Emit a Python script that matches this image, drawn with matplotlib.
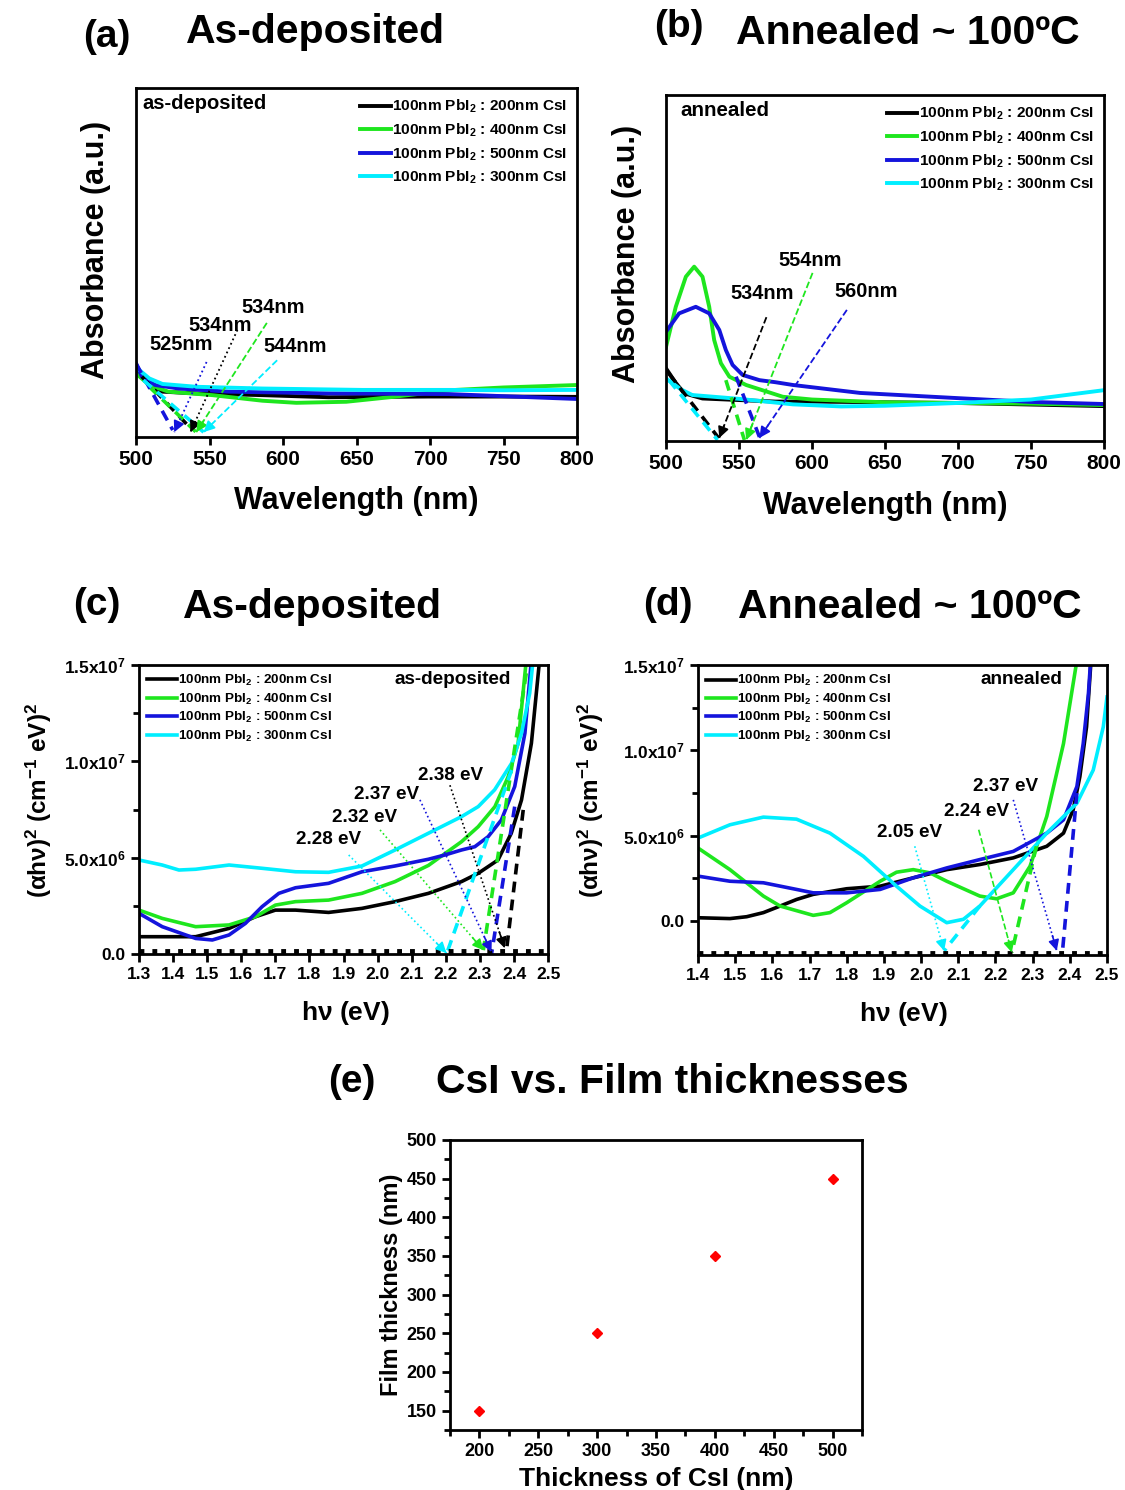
import numpy as np
import matplotlib
matplotlib.use("Agg")
import matplotlib.pyplot as plt
from matplotlib.ticker import MultipleLocator

plt.rcParams["font.family"] = "Liberation Sans"
plt.rcParams["font.weight"] = "bold"
plt.rcParams["axes.labelweight"] = "bold"
plt.rcParams["mathtext.fontset"] = "custom"
plt.rcParams["mathtext.bf"] = "Liberation Sans:bold"
plt.rcParams["mathtext.rm"] = "Liberation Sans:bold"
plt.rcParams["mathtext.default"] = "bf"

# ---------------- data ----------------
CSI = ["200", "400", "500", "300"]
COLORS = ["black", "#1ee61e", "#1414dc", "#00eeff"]
LABELS = [f"100nm PbI$_2$ : {t}nm CsI" for t in CSI]

# (a) as-deposited absorbance (a.u.)
a_nm_black = [500, 509, 518, 541, 586, 631, 699, 750, 800]
a_black = [0.192, 0.154, 0.130, 0.125, 0.120, 0.114, 0.116, 0.116, 0.115]
a_nm_green = [500, 509, 522, 552, 586, 609, 643, 677, 713, 750, 800]
a_green = [0.182, 0.149, 0.130, 0.120, 0.104, 0.098, 0.101, 0.116, 0.134, 0.142, 0.149]
a_nm_blue = [500, 504, 513, 529, 563, 631, 713, 750, 800]
a_blue = [0.211, 0.173, 0.149, 0.139, 0.130, 0.125, 0.123, 0.117, 0.109]
a_nm_cyan = [500, 509, 518, 541, 586, 654, 713, 750, 800]
a_cyan = [0.200, 0.168, 0.152, 0.144, 0.139, 0.135, 0.135, 0.134, 0.135]

# tangents (start -> intercept) and pointers (label -> intercept)
a_tan = [((504, 0.173), (536, 0.03)), ((509, 0.144), (540.6, 0.015)),
         ((500, 0.211), (525, 0.02)), ((505, 0.163), (546, 0.014))]
a_ptr = [((569, 0.307), (537, 0.014)), ((589, 0.327), (541, 0.014)),
         ((548, 0.215), (526, 0.014)), ((596, 0.220), (546, 0.014))]
a_ptr_ls = [":", "--", ":", "--"]
a_gap_text = ["534nm", "534nm", "525nm", "544nm"]
a_gap_pos = [(557, 0.321), (593, 0.370), (530.6, 0.264), (608, 0.258)]

# (b) annealed absorbance (a.u.)
b_nm_black = [500, 506, 512.4, 525, 575, 600, 700, 800]
b_black = [0.210, 0.172, 0.138, 0.123, 0.114, 0.114, 0.110, 0.101]
b_nm_green = [500, 506.7, 513.6, 519.3, 525, 529.6, 533, 537.6, 543.4, 554.9, 580, 600, 650, 700, 750, 800]
b_green = [0.272, 0.388, 0.475, 0.504, 0.475, 0.388, 0.292, 0.225, 0.186, 0.162, 0.128, 0.120, 0.112, 0.110, 0.108, 0.104]
b_nm_blue = [500, 509, 520.4, 529.6, 536.5, 541, 545.6, 552.5, 564, 575, 587, 633, 700, 750, 800]
b_blue = [0.316, 0.369, 0.388, 0.369, 0.321, 0.263, 0.220, 0.191, 0.176, 0.170, 0.162, 0.139, 0.124, 0.113, 0.107]
b_nm_cyan = [500, 510, 518, 550, 587, 620, 650, 700, 750, 800]
b_cyan = [0.181, 0.150, 0.133, 0.122, 0.106, 0.100, 0.102, 0.110, 0.120, 0.147]

b_tan = [((502, 0.195), (536, 0.009)), ((541, 0.176), (553.7, 0.003)),
         ((548, 0.186), (564, 0.012)), ((502, 0.176), (535.3, 0.003))]
b_ptr = [((568.8, 0.358), (536.5, 0.009)), ((600.4, 0.486), (554.9, 0.003)),
         ((623.9, 0.379), (564, 0.009))]
b_gap_text = ["534nm", "554nm", "560nm"]
b_gap_pos = [(566, 0.425), (598.4, 0.523), (637, 0.431)]

# (c) as-deposited Tauc plot (values in 1e6)
c_ev_black = [1.30, 1.466, 1.564, 1.642, 1.700, 1.759, 1.856, 1.954, 2.051, 2.149, 2.246, 2.295, 2.353, 2.392, 2.422, 2.451, 2.475]
c_black = [0.90, 0.90, 1.33, 1.94, 2.28, 2.28, 2.16, 2.37, 2.72, 3.15, 3.76, 4.19, 4.88, 6.27, 8.00, 10.94, 15.26]
c_ev_green = [1.30, 1.368, 1.466, 1.564, 1.642, 1.700, 1.759, 1.856, 1.954, 2.051, 2.149, 2.246, 2.295, 2.344, 2.383, 2.412, 2.436]
c_green = [2.28, 1.85, 1.42, 1.51, 1.94, 2.54, 2.72, 2.80, 3.15, 3.76, 4.60, 5.83, 6.61, 7.65, 9.21, 10.94, 15.26]
c_ev_blue = [1.30, 1.368, 1.466, 1.515, 1.564, 1.612, 1.661, 1.710, 1.759, 1.856, 1.954, 2.051, 2.149, 2.197, 2.246, 2.285, 2.324, 2.363, 2.402, 2.432, 2.451]
c_blue = [2.11, 1.42, 0.81, 0.73, 0.99, 1.59, 2.46, 3.15, 3.44, 3.67, 4.27, 4.57, 4.92, 5.14, 5.40, 5.57, 6.09, 6.96, 8.69, 11.46, 15.26]
c_ev_cyan = [1.30, 1.368, 1.417, 1.466, 1.564, 1.661, 1.759, 1.856, 1.954, 2.051, 2.149, 2.246, 2.295, 2.343, 2.393, 2.422, 2.446, 2.456]
c_cyan = [4.88, 4.62, 4.36, 4.40, 4.62, 4.45, 4.27, 4.24, 4.57, 5.40, 6.27, 7.13, 7.65, 8.52, 9.90, 11.46, 13.53, 15.26]

c_tan = [((2.427, 7.48), (2.378, 0.2)), ((2.436, 14.57), (2.31, 0.2)),
         ((2.402, 7.65), (2.334, 0.0)), ((2.393, 9.55), (2.202, 0.0))]
c_ptr = [((2.212, 8.76), (2.373, 0.3)), ((2.007, 6.44), (2.31, 0.2)),
         ((2.124, 8.00), (2.334, 0.1)), ((1.915, 5.14), (2.202, 0.05))]
c_gap_text = ["2.38 eV", "2.32 eV", "2.37 eV", "2.28 eV"]
c_gap_pos = [(2.213, 9.29), (1.963, 7.06), (2.026, 8.26), (1.856, 5.92)]

# (d) annealed Tauc plot (values in 1e6)
d_ev_black = [1.40, 1.486, 1.531, 1.576, 1.621, 1.665, 1.710, 1.800, 1.890, 1.979, 2.069, 2.158, 2.248, 2.338, 2.383, 2.409, 2.427, 2.445, 2.457]
d_black = [0.19, 0.14, 0.25, 0.49, 0.875, 1.26, 1.56, 1.89, 2.04, 2.53, 3.01, 3.31, 3.70, 4.38, 5.15, 6.52, 8.46, 11.38, 15.27]
d_ev_green = [1.40, 1.486, 1.576, 1.621, 1.710, 1.755, 1.800, 1.890, 1.934, 1.979, 2.024, 2.069, 2.158, 2.203, 2.248, 2.293, 2.338, 2.383, 2.419]
d_green = [4.28, 3.01, 1.46, 0.875, 0.33, 0.49, 1.07, 2.33, 2.86, 3.01, 2.82, 2.33, 1.46, 1.30, 1.65, 3.21, 6.13, 10.40, 15.27]
d_ev_blue = [1.40, 1.486, 1.576, 1.665, 1.710, 1.800, 1.890, 1.979, 2.069, 2.158, 2.248, 2.338, 2.383, 2.419, 2.436, 2.450, 2.456]
d_blue = [2.63, 2.33, 2.24, 1.85, 1.65, 1.65, 1.85, 2.53, 3.11, 3.60, 4.08, 5.15, 5.93, 7.88, 10.40, 13.32, 15.27]
d_ev_cyan = [1.40, 1.486, 1.576, 1.665, 1.755, 1.845, 1.934, 1.997, 2.069, 2.114, 2.158, 2.248, 2.338, 2.419, 2.463, 2.490, 2.500]
d_cyan = [4.86, 5.64, 6.09, 5.97, 5.15, 3.79, 2.04, 0.875, -0.10, 0.10, 0.875, 3.01, 5.15, 6.90, 8.85, 11.38, 13.13]

d_tan = [((2.31, 4.38), (2.244, -1.85)), ((2.419, 7.50), (2.38, -1.85)),
         ((2.158, 0.875), (2.062, -1.75))]
d_tan_col = [1, 2, 3]
d_ptr = [((2.155, 5.35), (2.244, -1.85)), ((2.248, 7.10), (2.365, -1.75)),
         ((1.983, 4.38), (2.062, -1.75))]
d_ptr_ls = ["--", ":", ":"]
d_gap_text = ["2.24 eV", "2.37 eV", "2.05 eV"]
d_gap_pos = [(2.149, 6.42), (2.226, 7.88), (1.970, 5.19)]

# (e) film thickness vs CsI thickness
e_csi = [200, 300, 400, 500]
e_film = [150, 250, 350, 450]

TAUC_TICKS = [0, 5e6, 1e7, 1.5e7]
TAUC_TICKLABELS = ["0.0", "5.0x10$^6$", "1.0x10$^7$", "1.5x10$^7$"]


# ---------------- helpers ----------------
def style_axes(ax):
    for s in ax.spines.values():
        s.set_linewidth(2.0)
    ax.tick_params(which="both", direction="out", width=2, top=False, right=False)
    ax.tick_params(which="major", length=6)
    ax.tick_params(which="minor", length=4)


def pointer(ax, start, tip, color, ls, lw):
    ax.plot([start[0], tip[0]], [start[1], tip[1]], color=color, ls=ls, lw=lw)
    back = (start[0] + 0.9 * (tip[0] - start[0]), start[1] + 0.9 * (tip[1] - start[1]))
    ax.annotate("", xy=tip, xytext=back,
                arrowprops=dict(arrowstyle="-|>", color=color, lw=lw,
                                mutation_scale=16, shrinkA=0, shrinkB=0))


def tangent(ax, start, tip, color):
    ax.plot([start[0], tip[0]], [start[1], tip[1]], color=color, ls=(0, (3, 2)), lw=2.6)


fig = plt.figure(figsize=(11.25, 14.9), dpi=100)

# ---------------- (a) ----------------
ax = fig.add_axes([0.1209, 0.7067, 0.392, 0.2342])
for xs, ys, c, lab in zip([a_nm_black, a_nm_green, a_nm_blue, a_nm_cyan],
                          [a_black, a_green, a_blue, a_cyan], COLORS, LABELS):
    ax.plot(xs, ys, color=c, lw=2.8, label=lab)
for (s, t), c in zip(a_tan, COLORS):
    tangent(ax, s, t, c)
for (s, t), c, ls in zip(a_ptr, COLORS, a_ptr_ls):
    pointer(ax, s, t, c, ls, 1.3)
for txt, pos in zip(a_gap_text, a_gap_pos):
    ax.text(pos[0], pos[1], txt, fontsize=14.4, ha="center", va="center")
ax.set_xlim(500, 800)
ax.set_ylim(0, 1)
ax.set_yticks([])
ax.xaxis.set_major_locator(MultipleLocator(50))
style_axes(ax)
ax.tick_params(labelsize=15)
ax.set_xlabel("Wavelength (nm)", fontsize=22)
ax.set_ylabel("Absorbance (a.u.)", fontsize=22)
ax.xaxis.set_label_coords(0.5, -0.14)
ax.yaxis.set_label_coords(-0.056, 0.536)
ax.text(0.014, 0.955, "as-deposited", transform=ax.transAxes, fontsize=14.5,
        ha="left", va="center")
ax.legend(loc="upper right", bbox_to_anchor=(1.0, 1.0), frameon=False, fontsize=11.1,
          handlelength=2.0, handletextpad=0.1, labelspacing=0.4, borderaxespad=0.25)

# ---------------- (b) ----------------
ax = fig.add_axes([0.592, 0.704, 0.3893, 0.2322])
for xs, ys, c, lab in zip([b_nm_black, b_nm_green, b_nm_blue, b_nm_cyan],
                          [b_black, b_green, b_blue, b_cyan], COLORS, LABELS):
    ax.plot(xs, ys, color=c, lw=2.8, label=lab)
for (s, t), c in zip(b_tan, COLORS):
    tangent(ax, s, t, c)
for (s, t), c in zip(b_ptr, COLORS[:3]):
    pointer(ax, s, t, c, "--", 1.3)
for txt, pos in zip(b_gap_text, b_gap_pos):
    ax.text(pos[0], pos[1], txt, fontsize=14.4, ha="center", va="center")
ax.set_xlim(500, 800)
ax.set_ylim(0, 1)
ax.set_yticks([])
ax.xaxis.set_major_locator(MultipleLocator(50))
style_axes(ax)
ax.tick_params(labelsize=15)
ax.set_xlabel("Wavelength (nm)", fontsize=22)
ax.set_ylabel("Absorbance (a.u.)", fontsize=22)
ax.xaxis.set_label_coords(0.5, -0.143)
ax.yaxis.set_label_coords(-0.055, 0.54)
ax.text(0.032, 0.955, "annealed", transform=ax.transAxes, fontsize=14.8,
        ha="left", va="center")
ax.legend(loc="upper right", bbox_to_anchor=(1.0, 1.0), frameon=False, fontsize=11.1,
          handlelength=2.0, handletextpad=0.1, labelspacing=0.4, borderaxespad=0.25)

# ---------------- (c) ----------------
ax = fig.add_axes([0.1236, 0.3597, 0.3636, 0.194])
for xs, ys, c, lab in zip([c_ev_black, c_ev_green, c_ev_blue, c_ev_cyan],
                          [c_black, c_green, c_blue, c_cyan], COLORS, LABELS):
    ax.plot(xs, np.array(ys) * 1e6, color=c, lw=2.6, label=lab)
for (s, t), c in zip(c_tan, COLORS):
    tangent(ax, (s[0], s[1] * 1e6), (t[0], t[1] * 1e6), c)
for (s, t), c in zip(c_ptr, COLORS):
    pointer(ax, (s[0], s[1] * 1e6), (t[0], t[1] * 1e6), c, ":", 1.2)
for txt, pos in zip(c_gap_text, c_gap_pos):
    ax.text(pos[0], pos[1] * 1e6, txt, fontsize=13.6, ha="center", va="center")
ax.set_xlim(1.3, 2.5)
ax.set_ylim(0, 1.5e7)
ax.axhline(0.015e7, color="black", ls=":", lw=3.5)
ax.xaxis.set_major_locator(MultipleLocator(0.1))
ax.set_yticks(TAUC_TICKS, TAUC_TICKLABELS)
ax.yaxis.set_minor_locator(MultipleLocator(2.5e6))
style_axes(ax)
ax.tick_params(labelsize=12.5)
ax.set_xlabel(r"h$\nu$ (eV)", fontsize=19)
ax.set_ylabel(r"($\alpha$h$\nu$)$^2$ (cm$^{-1}$ eV)$^2$", fontsize=17.5)
ax.xaxis.set_label_coords(0.504, -0.156)
ax.yaxis.set_label_coords(-0.208, 0.533)
ax.text(0.91, 0.95, "as-deposited", transform=ax.transAxes, fontsize=13.6,
        ha="right", va="center")
ax.legend(loc="upper left", bbox_to_anchor=(0.0, 1.0), frameon=False, fontsize=9.7,
          handlelength=2.2, handletextpad=0.1, labelspacing=0.25, borderaxespad=0.2)

# ---------------- (d) ----------------
ax = fig.add_axes([0.6204, 0.359, 0.3636, 0.1946])
for xs, ys, c, lab in zip([d_ev_black, d_ev_green, d_ev_blue, d_ev_cyan],
                          [d_black, d_green, d_blue, d_cyan], COLORS, LABELS):
    ax.plot(xs, np.array(ys) * 1e6, color=c, lw=2.6, label=lab)
for (s, t), ci in zip(d_tan, d_tan_col):
    tangent(ax, (s[0], s[1] * 1e6), (t[0], t[1] * 1e6), COLORS[ci])
for (s, t), ci, ls in zip(d_ptr, d_tan_col, d_ptr_ls):
    pointer(ax, (s[0], s[1] * 1e6), (t[0], t[1] * 1e6), COLORS[ci], ls, 1.2)
for txt, pos in zip(d_gap_text, d_gap_pos):
    ax.text(pos[0], pos[1] * 1e6, txt, fontsize=13.6, ha="center", va="center")
ax.set_xlim(1.4, 2.5)
ax.set_ylim(-2.0e6, 1.5e7)
ax.axhline(-1.9e6, color="black", ls=":", lw=3.5)
ax.xaxis.set_major_locator(MultipleLocator(0.1))
ax.set_yticks(TAUC_TICKS, TAUC_TICKLABELS)
ax.yaxis.set_minor_locator(MultipleLocator(2.5e6))
style_axes(ax)
ax.tick_params(labelsize=12.5)
ax.set_xlabel(r"h$\nu$ (eV)", fontsize=19)
ax.set_ylabel(r"($\alpha$h$\nu$)$^2$ (cm$^{-1}$ eV)$^2$", fontsize=17.5)
ax.xaxis.set_label_coords(0.501, -0.155)
ax.yaxis.set_label_coords(-0.225, 0.534)
ax.text(0.89, 0.95, "annealed", transform=ax.transAxes, fontsize=13.6,
        ha="right", va="center")
ax.legend(loc="upper left", bbox_to_anchor=(0.0, 1.0), frameon=False, fontsize=9.7,
          handlelength=2.2, handletextpad=0.1, labelspacing=0.25, borderaxespad=0.2)

# ---------------- (e) ----------------
ax = fig.add_axes([0.4, 0.0403, 0.3662, 0.1946])
ax.plot(e_csi, e_film, ls="none", marker="D", markersize=5, color="red")
ax.set_xlim(175, 525)
ax.set_ylim(125, 500)
ax.xaxis.set_major_locator(MultipleLocator(50))
ax.yaxis.set_major_locator(MultipleLocator(50))
ax.xaxis.set_minor_locator(MultipleLocator(25))
ax.yaxis.set_minor_locator(MultipleLocator(25))
style_axes(ax)
ax.tick_params(labelsize=13)
ax.set_xlabel("Thickness of CsI (nm)", fontsize=19)
ax.set_ylabel("Film thickness (nm)", fontsize=17)
ax.xaxis.set_label_coords(0.5, -0.128)
ax.yaxis.set_label_coords(-0.115, 0.5)

# ---------------- titles ----------------
TITLE_FS = 29.5
TAG_FS = 28
fig.text(0.095, 0.975, "(a)", fontsize=TAG_FS, ha="center", va="center")
fig.text(0.28, 0.9785, "As-deposited", fontsize=TITLE_FS, ha="center", va="center")
fig.text(0.603, 0.982, "(b)", fontsize=TAG_FS, ha="center", va="center")
fig.text(0.807, 0.978, "Annealed ~ 100ºC", fontsize=TITLE_FS, ha="center", va="center")
fig.text(0.086, 0.594, "(c)", fontsize=TAG_FS, ha="center", va="center")
fig.text(0.278, 0.5926, "As-deposited", fontsize=TITLE_FS, ha="center", va="center")
fig.text(0.594, 0.594, "(d)", fontsize=TAG_FS, ha="center", va="center")
fig.text(0.809, 0.5926, "Annealed ~ 100ºC", fontsize=TITLE_FS, ha="center", va="center")
fig.text(0.313, 0.274, "(e)", fontsize=TAG_FS, ha="center", va="center")
fig.text(0.598, 0.274, "CsI vs. Film thicknesses", fontsize=TITLE_FS, ha="center", va="center")

fig.savefig("out.png", dpi=100, facecolor="white")
